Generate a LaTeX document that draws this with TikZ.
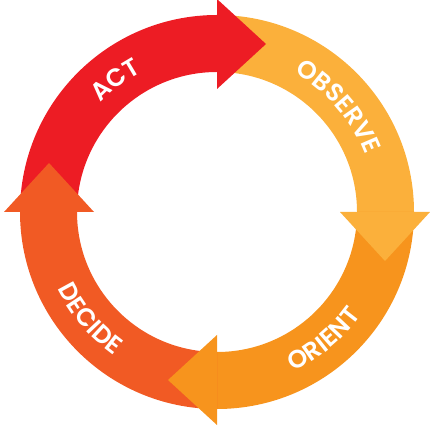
\documentclass[tikz,border=0pt]{standalone}
\usepackage{fontspec}
\newfontfamily\cyclefont{Poppins SemiBold}[LetterSpace=8]
\usetikzlibrary{decorations.text}

\definecolor{actcolor}{HTML}{ED1C24}
\definecolor{observecolor}{HTML}{FBB03B}
\definecolor{orientcolor}{HTML}{F7941D}
\definecolor{decidecolor}{HTML}{F15A24}
\newcommand{\labelfont}{\color{white}\cyclefont\fontsize{25}{25}\selectfont}

\tikzset{
    x={1pt},
    y={1pt},
    band/.style={
        fill={#1},
    },
    arrow head/.style={
        fill={#1},
    },
    cycle label/.style={
        decorate,
        decoration={
            text along path,
            text align=center,
            text={|\labelfont|#1},
        },
    },
}

\begin{document}
\begin{tikzpicture}
\useasboundingbox (0,0) rectangle (430,425);
\begin{scope}[shift={(217,213)}]
% bands
\path[band={actcolor}] (180:197) arc[start angle=180, end angle=90, radius=197] -- (90:140) arc[start angle=90, end angle=180, radius=140] -- cycle;
\path[band={observecolor}] (90:197) arc[start angle=90, end angle=0, radius=197] -- (0:140) arc[start angle=0, end angle=90, radius=140] -- cycle;
\path[band={orientcolor}] (0:197) arc[start angle=0, end angle=-90, radius=197] -- (-90:140) arc[start angle=-90, end angle=0, radius=140] -- cycle;
\path[band={decidecolor}] (-90:197) arc[start angle=-90, end angle=-180, radius=197] -- (-180:140) arc[start angle=-180, end angle=-90, radius=140] -- cycle;
% arrow heads
\path[arrow head={actcolor}] (90:123) -- (90:213) -- ([shift={(0:49)}]90:168) -- cycle;
\path[arrow head={observecolor}] (0:123) -- (0:213) -- ([shift={(-90:49)}]0:168) -- cycle;
\path[arrow head={orientcolor}] (-90:123) -- (-90:213) -- ([shift={(-180:49)}]-90:168) -- cycle;
\path[arrow head={decidecolor}] (180:123) -- (180:213) -- ([shift={(90:49)}]180:168) -- cycle;
% labels
\path[cycle label={ACT}] (157.5:159) arc[start angle=157.5, end angle=97.5, radius=159];
\path[cycle label={OBSERVE}] (71:159) arc[start angle=71, end angle=11, radius=159];
\path[cycle label={ORIENT}] (-80:177) arc[start angle=-80, end angle=-20, radius=177];
\path[cycle label={DECIDE}] (-170:177) arc[start angle=-170, end angle=-110, radius=177];
\end{scope}
\end{tikzpicture}
\end{document}
